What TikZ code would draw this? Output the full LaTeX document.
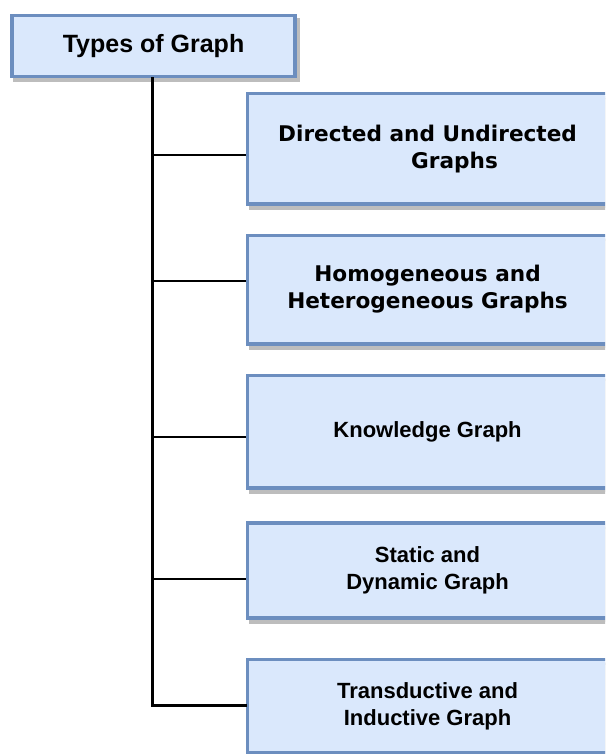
\documentclass[tikz,border=0pt]{standalone}
\usepackage{fontspec}
\newfontfamily\headfont{Liberation Sans}
\newfontfamily\wideface{DejaVu Sans}
\definecolor{boxfill}{HTML}{DAE8FC}
\definecolor{boxline}{HTML}{6C8EBF}
\definecolor{shadowgray}{HTML}{BDBDBD}
\begin{document}
\begin{tikzpicture}[x=1pt,y=-1pt,
  card/.style={rectangle, draw=boxline, fill=boxfill, line width=3.5pt,
    align=center, inner sep=0pt, anchor=north west,
    preaction={draw=shadowgray, fill=shadowgray, line width=3.5pt,
      transform canvas={xshift=3pt,yshift=-4pt}}},
  typecard/.style={card, minimum width=360pt},
  armfont/.style={font=\headfont\bfseries\fontsize{22}{27}\selectfont},
  widefont/.style={font=\wideface\bfseries\fontsize{21.6}{27}\selectfont},
  trunk/.style={line width=2.6pt, black}]
\useasboundingbox (0,0) rectangle (605,754);
\clip (0,0) rectangle (605,754);

% root box
\node[card, minimum width=283pt, minimum height=61pt,
  font=\headfont\bfseries\fontsize{25}{28}\selectfont] (root) at (10.3,14) {Types of Graph};

% the five kinds of graph
\node[typecard, widefont, minimum height=110.3pt] (b1) at (245.8,92)
  {Directed and Undirected\\\hspace*{54pt}Graphs};
\node[typecard, widefont, minimum height=108.3pt] (b2) at (245.8,233.7)
  {Homogeneous and\\Heterogeneous Graphs};
\node[typecard, armfont, minimum height=112.3pt] (b3) at (245.8,373.7)
  {Knowledge Graph};
\node[typecard, armfont, minimum height=95.3pt] (b4) at (245.8,521)
  {Static and\\Dynamic Graph};
\node[typecard, armfont, minimum height=93.6pt] (b5) at (245.8,657.7)
  {Transductive and\\Inductive Graph};

% branch points on the trunk
\coordinate (j1) at (152.3,155);
\coordinate (j2) at (152.3,281);
\coordinate (j3) at (152.3,437);
\coordinate (j4) at (152.3,579);
\coordinate (j5) at (152.3,705.5);

\draw[trunk, line cap=rect] (root.south -| j1) -- (j5) -- (j5 -| b5.west);
\draw[trunk] (j1) -- (j1 -| b1.west);
\draw[trunk] (j2) -- (j2 -| b2.west);
\draw[trunk] (j3) -- (j3 -| b3.west);
\draw[trunk] (j4) -- (j4 -| b4.west);
\end{tikzpicture}
\end{document}
